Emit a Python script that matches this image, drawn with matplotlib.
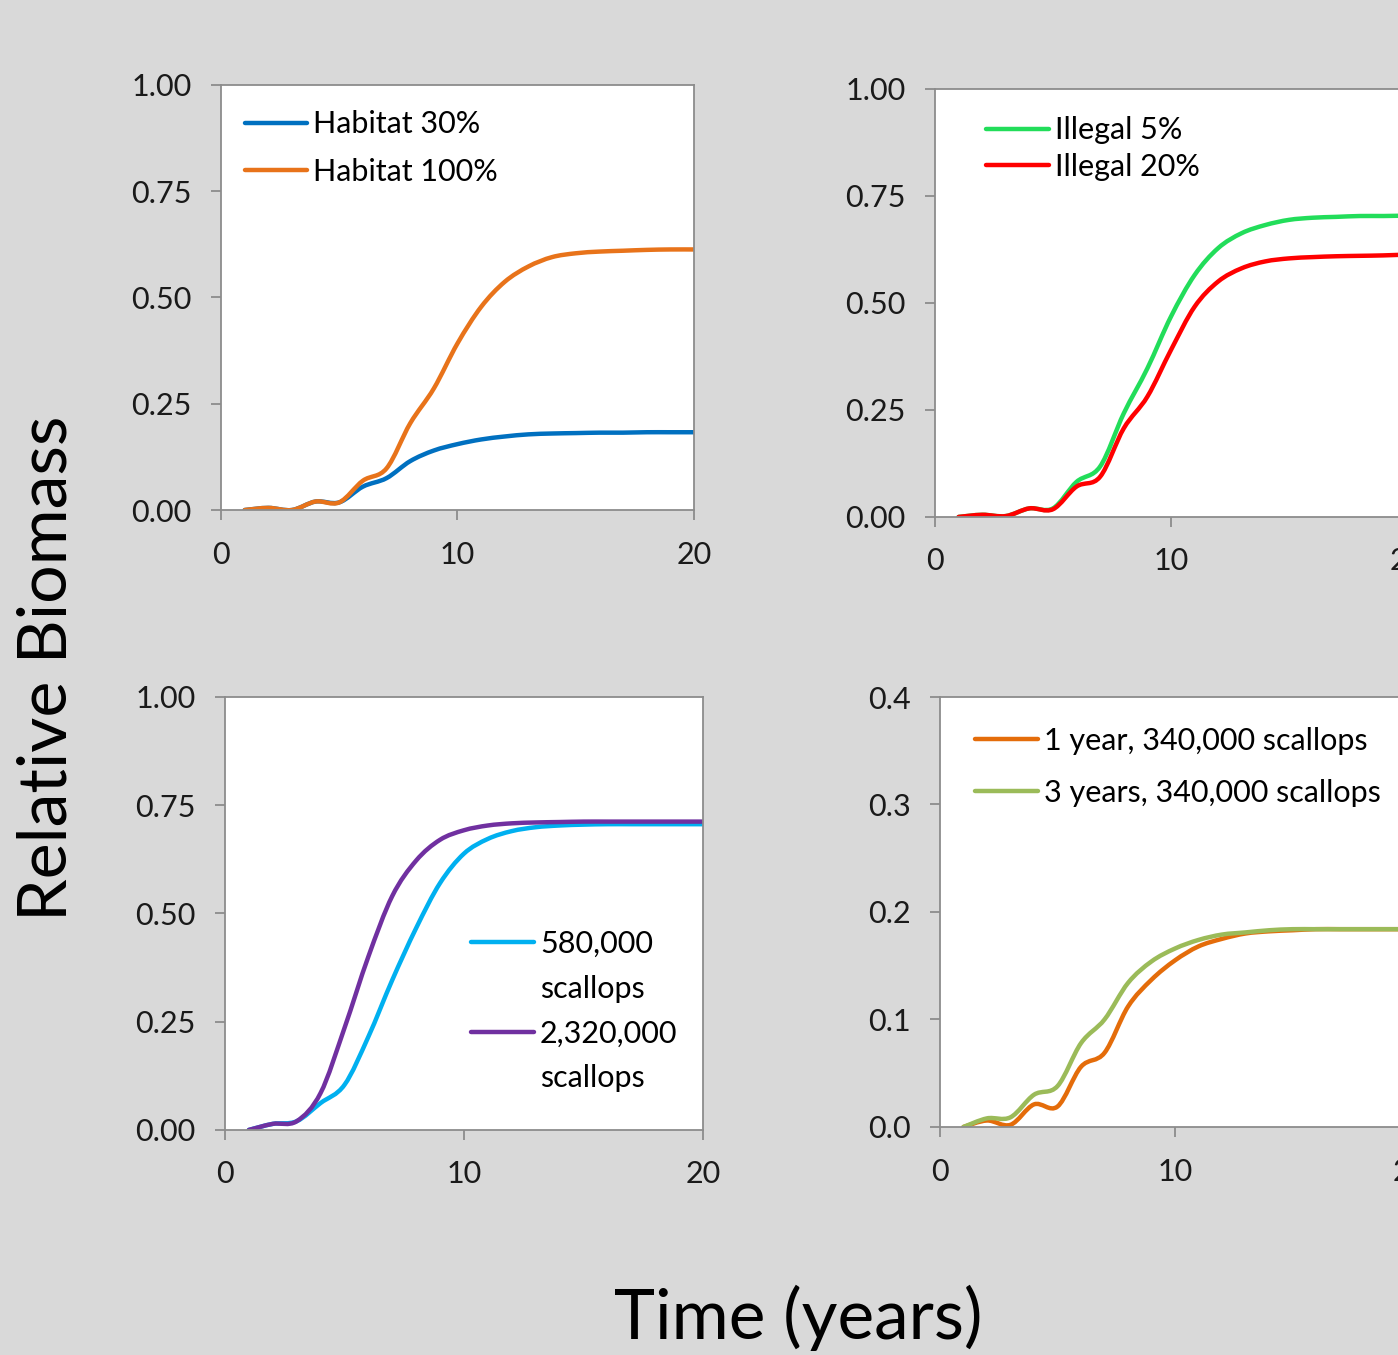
import matplotlib
matplotlib.use("Agg")
import matplotlib.pyplot as plt
from matplotlib.path import Path
from matplotlib.patches import PathPatch
from matplotlib.lines import Line2D

plt.rcParams['font.family'] = ['Lato', 'DejaVu Sans']

years = list(range(1, 21))

# top-left: habitat
habitat_30 = [0.0, 0.005, 0.0, 0.02, 0.018, 0.055, 0.075, 0.115, 0.140, 0.155,
              0.166, 0.173, 0.178, 0.180, 0.181, 0.182, 0.182, 0.183, 0.183, 0.183]
habitat_100 = [0.0, 0.005, 0.0, 0.02, 0.018, 0.069, 0.098, 0.204, 0.286, 0.392,
               0.478, 0.537, 0.573, 0.595, 0.604, 0.608, 0.610, 0.612, 0.613, 0.613]

# top-right: illegal harvest
illegal_5 = [0.0, 0.005, 0.002, 0.02, 0.02, 0.082, 0.118, 0.242, 0.347, 0.468,
             0.565, 0.628, 0.663, 0.682, 0.694, 0.699, 0.701, 0.703, 0.703, 0.704]
illegal_20 = [0.0, 0.005, 0.002, 0.02, 0.018, 0.071, 0.094, 0.207, 0.281, 0.390,
              0.491, 0.550, 0.581, 0.597, 0.604, 0.607, 0.609, 0.610, 0.611, 0.613]

# bottom-left: stocking numbers
stock_580k = [0.0, 0.014, 0.02, 0.062, 0.104, 0.215, 0.346, 0.466, 0.570, 0.638,
              0.672, 0.690, 0.699, 0.703, 0.705, 0.706, 0.706, 0.706, 0.706, 0.706]
stock_2320k = [0.0, 0.014, 0.02, 0.085, 0.235, 0.400, 0.540, 0.622, 0.670, 0.692,
               0.703, 0.708, 0.710, 0.711, 0.712, 0.712, 0.712, 0.712, 0.712, 0.712]

# bottom-right: stocking duration
dur_1yr = [0.0, 0.006, 0.002, 0.021, 0.019, 0.056, 0.069, 0.112, 0.137, 0.155,
           0.168, 0.175, 0.180, 0.182, 0.183, 0.184, 0.184, 0.184, 0.184, 0.184]
dur_3yr = [0.0, 0.008, 0.009, 0.030, 0.038, 0.078, 0.100, 0.134, 0.154, 0.166,
           0.174, 0.179, 0.181, 0.183, 0.184, 0.184, 0.184, 0.184, 0.184, 0.184]

BG = '#d9d9d9'
SPINE = '#8c8c8c'
FS = 22
LW = 3.2


def smooth_line(ax, xs, ys, color, lw=LW):
    # excel-style smoothed line: catmull-rom segments as cubic beziers
    verts = [(xs[0], ys[0])]
    codes = [Path.MOVETO]
    n = len(xs)
    for i in range(n - 1):
        x0, y0 = (xs[i - 1], ys[i - 1]) if i > 0 else (xs[i], ys[i])
        x1, y1 = xs[i], ys[i]
        x2, y2 = xs[i + 1], ys[i + 1]
        x3, y3 = (xs[i + 2], ys[i + 2]) if i + 2 < n else (x2, y2)
        verts += [(x1 + (x2 - x0) / 6, y1 + (y2 - y0) / 6),
                  (x2 - (x3 - x1) / 6, y2 - (y3 - y1) / 6),
                  (x2, y2)]
        codes += [Path.CURVE4] * 3
    ax.add_patch(PathPatch(Path(verts, codes), fill=False, edgecolor=color,
                           lw=lw, capstyle='round', joinstyle='round'))
    return Line2D([], [], color=color, lw=lw, solid_capstyle='round')


def style_axes(ax, ymax, ystep, fmt):
    ax.set_xlim(0, 20)
    ax.set_ylim(0, ymax)
    ax.set_xticks([0, 10, 20])
    yt = [i * ystep for i in range(int(round(ymax / ystep)) + 1)]
    ax.set_yticks(yt)
    ax.set_yticklabels([fmt.format(v) for v in yt])
    for s in ax.spines.values():
        s.set_color(SPINE)
        s.set_linewidth(1.3)
    ax.tick_params(axis='both', direction='out', length=7, width=1.3,
                   color=SPINE, labelsize=FS, labelcolor='#1a1a1a')
    ax.tick_params(axis='x', pad=15)
    ax.tick_params(axis='y', pad=14)


def add_legend(ax, handles, labels, anchor, spacing):
    ax.legend(handles, labels, loc='upper left', bbox_to_anchor=anchor,
              frameon=False, fontsize=FS, handlelength=2.05, handletextpad=0.2,
              labelspacing=spacing, borderpad=0, borderaxespad=0)


fig = plt.figure(figsize=(13.98, 13.55), dpi=100, facecolor=BG)

# top-left
ax1 = fig.add_axes([0.1581, 0.6236, 0.3383, 0.3137])
h1 = smooth_line(ax1, years, habitat_30, '#0070c0')
h2 = smooth_line(ax1, years, habitat_100, '#e8731a')
style_axes(ax1, 1.0, 0.25, '{:.2f}')
add_legend(ax1, [h1, h2], ['Habitat 30%', 'Habitat 100%'], (0.05, 0.94), 0.64)

# top-right (runs off the right edge)
ax2 = fig.add_axes([0.6688, 0.6185, 0.3376, 0.3159])
h1 = smooth_line(ax2, years, illegal_5, '#22dd5a')
h2 = smooth_line(ax2, years, illegal_20, '#ff0000')
style_axes(ax2, 1.0, 0.25, '{:.2f}')
add_legend(ax2, [h1, h2], ['Illegal 5%', 'Illegal 20%'], (0.108, 0.936), 0.28)

# bottom-left
ax3 = fig.add_axes([0.1609, 0.1661, 0.3419, 0.3196])
h1 = smooth_line(ax3, years, stock_580k, '#00b0f0')
h2 = smooth_line(ax3, years, stock_2320k, '#7030a0')
style_axes(ax3, 1.0, 0.25, '{:.2f}')
blank = Line2D([], [], color='none')
add_legend(ax3, [h1, blank, h2, blank],
           ['580,000', 'scallops', '2,320,000', 'scallops'], (0.515, 0.462), 0.55)

# bottom-right (runs off the right edge)
ax4 = fig.add_axes([0.6724, 0.1683, 0.3362, 0.3173])
h1 = smooth_line(ax4, years, dur_1yr, '#e46c0a')
h2 = smooth_line(ax4, years, dur_3yr, '#9bbb59')
style_axes(ax4, 0.4, 0.1, '{:.1f}')
add_legend(ax4, [h1, h2], ['1 year, 340,000 scallops', '3 years, 340,000 scallops'],
           (0.075, 0.931), 0.8)

fig.text(48 / 1398, 1 - 668 / 1355, 'Relative Biomass', rotation=90,
         ha='center', va='center', fontsize=49, color='black')
fig.text(798 / 1398, 1 - 1318 / 1355, 'Time (years)', ha='center',
         va='center', fontsize=50, color='black')

fig.savefig('out.png', dpi=100, facecolor=BG)
